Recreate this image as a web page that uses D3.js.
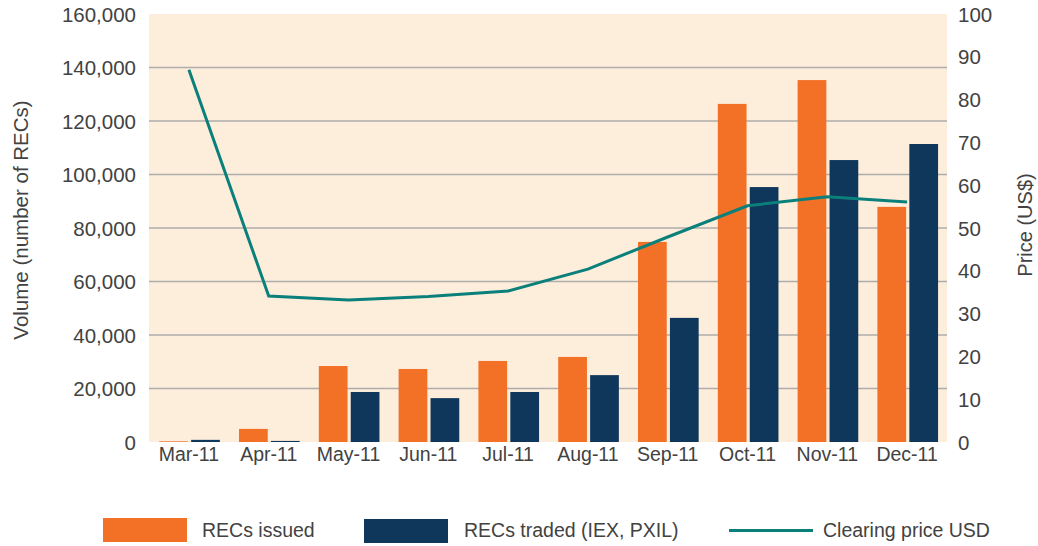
<!DOCTYPE html>
<html>
<head>
<meta charset="utf-8">
<script src="https://cdn.jsdelivr.net/npm/d3@7"></script>
<style>
  html, body { margin: 0; padding: 0; background: #ffffff; }
  svg { display: block; }
  text { font-family: "Liberation Sans", Arial, Helvetica, sans-serif; fill: #424242; }
</style>
</head>
<body>
<svg id="chart" width="1038" height="546"></svg>
<script>
// Monthly REC volumes and clearing price, 2011
const months = ["Mar-11", "Apr-11", "May-11", "Jun-11", "Jul-11", "Aug-11", "Sep-11", "Oct-11", "Nov-11", "Dec-11"];
const recsIssued = [250, 4900, 28400, 27300, 30300, 31800, 74800, 126400, 135300, 87900];
const recsTraded = [800, 400, 18700, 16400, 18700, 25000, 46400, 95300, 105400, 111400];
const clearingPrice = [87, 34.1, 33.2, 34, 35.3, 40.4, 47.9, 55.2, 57.3, 56.1];
const volumeTicks = [0, 20000, 40000, 60000, 80000, 100000, 120000, 140000, 160000];
const priceTicks = [0, 10, 20, 30, 40, 50, 60, 70, 80, 90, 100];

const seriesKeys = ["issued", "traded"];
const colors = { issued: "#f37027", traded: "#0f365b", price: "#0b807b" };

const svg = d3.select("#chart");
const plot = { left: 149, right: 947, top: 14, bottom: 442 };

const x = d3.scaleBand().domain(months).range([plot.left, plot.right]).padding(0);
const xSub = d3.scaleBand().domain(seriesKeys)
  .range([x.bandwidth() * 0.128, x.bandwidth() * 0.888]).paddingInner(0.1);
const yVol = d3.scaleLinear().domain([0, 160000]).range([plot.bottom, plot.top]);
const yPrice = d3.scaleLinear().domain([0, 100]).range([plot.bottom, plot.top]);

// plot background
svg.append("rect")
  .attr("x", plot.left).attr("y", plot.top)
  .attr("width", plot.right - plot.left).attr("height", plot.bottom - plot.top)
  .attr("fill", "#fdeedb");

// horizontal gridlines from the volume axis
svg.append("g").selectAll("line")
  .data(volumeTicks.filter(d => d > 0 && d < 160000))
  .join("line")
  .attr("x1", plot.left).attr("x2", plot.right)
  .attr("y1", d => yVol(d)).attr("y2", d => yVol(d))
  .attr("stroke", "#aeadaa").attr("stroke-width", 1.6);

// bars
const rows = months.map((m, i) => ({ month: m, issued: recsIssued[i], traded: recsTraded[i] }));
const groups = svg.append("g").selectAll("g")
  .data(rows).join("g")
  .attr("transform", d => `translate(${x(d.month)},0)`);
groups.selectAll("rect")
  .data(d => seriesKeys.map(k => ({ key: k, value: d[k] })))
  .join("rect")
  .attr("x", d => xSub(d.key))
  .attr("width", xSub.bandwidth())
  .attr("y", d => yVol(d.value))
  .attr("height", d => yVol(0) - yVol(d.value))
  .attr("fill", d => colors[d.key]);

// clearing price line
const line = d3.line()
  .x((d, i) => x(months[i]) + x.bandwidth() / 2)
  .y(d => yPrice(d));
svg.append("path")
  .datum(clearingPrice)
  .attr("d", line)
  .attr("fill", "none")
  .attr("stroke", colors.price)
  .attr("stroke-width", 3);

// left axis
const leftAxis = d3.axisLeft(yVol).tickValues(volumeTicks)
  .tickFormat(d3.format(",")).tickSize(0).tickPadding(13);
const gL = svg.append("g").attr("transform", `translate(${plot.left},0)`).call(leftAxis);
gL.select(".domain").remove();
gL.selectAll("text").style("font-size", "20.5px").attr("dy", "0.35em").attr("fill", "#424242");

// right axis
const rightAxis = d3.axisRight(yPrice).tickValues(priceTicks).tickSize(0).tickPadding(11);
const gR = svg.append("g").attr("transform", `translate(${plot.right},0)`).call(rightAxis);
gR.select(".domain").remove();
gR.selectAll("text").style("font-size", "20.5px").attr("dy", "0.35em").attr("fill", "#424242");

// bottom axis
const bottomAxis = d3.axisBottom(x).tickSize(0).tickPadding(4);
const gB = svg.append("g").attr("transform", `translate(0,${plot.bottom})`).call(bottomAxis);
gB.select(".domain").remove();
gB.selectAll("text").style("font-size", "19.5px").attr("dy", "0.78em").attr("fill", "#424242");

// axis titles
svg.append("text")
  .attr("transform", "translate(28,220) rotate(-90)")
  .attr("text-anchor", "middle")
  .style("font-size", "20.5px")
  .text("Volume (number of RECs)");
svg.append("text")
  .attr("transform", "translate(1032,225) rotate(-90)")
  .attr("text-anchor", "middle")
  .style("font-size", "20px")
  .text("Price (US$)");

// legend
const legend = svg.append("g");
legend.append("rect").attr("x", 103).attr("y", 518).attr("width", 84).attr("height", 24).attr("fill", colors.issued);
legend.append("text").attr("x", 202).attr("y", 537).style("font-size", "19.5px").text("RECs issued");
legend.append("rect").attr("x", 364).attr("y", 519).attr("width", 84).attr("height", 24).attr("fill", colors.traded);
legend.append("text").attr("x", 464).attr("y", 537).style("font-size", "19.5px").text("RECs traded (IEX, PXIL)");
legend.append("line").attr("x1", 729).attr("x2", 813).attr("y1", 530.5).attr("y2", 530.5)
  .attr("stroke", colors.price).attr("stroke-width", 3);
legend.append("text").attr("x", 823).attr("y", 537).style("font-size", "19.5px").text("Clearing price USD");
</script>
</body>
</html>
